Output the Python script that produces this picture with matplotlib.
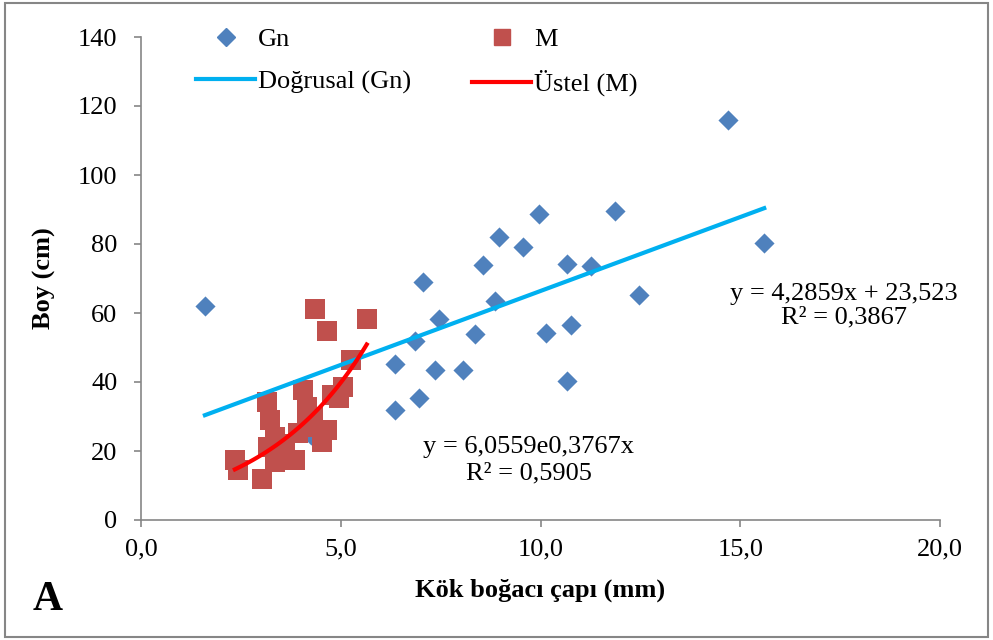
import numpy as np
import matplotlib
matplotlib.use("Agg")
import matplotlib.pyplot as plt
from matplotlib.lines import Line2D
from matplotlib.patches import Rectangle

plt.rcParams["font.family"] = ["Liberation Serif", "DejaVu Serif"]

# Gn: stem diameter (mm) vs height (cm)
gn_x = [1.6, 14.7, 15.6, 7.05, 8.96, 9.55, 9.96, 11.87, 8.55, 10.66, 11.26, 12.46,
        8.86, 7.46, 6.85, 8.35, 10.15, 10.77, 6.36, 7.36, 8.05, 10.66, 6.36, 6.96, 4.25]
gn_y = [62.0, 116.0, 80.2, 68.9, 81.9, 79.0, 88.8, 89.7, 74.0, 74.2, 73.6, 65.3,
        63.4, 58.3, 51.9, 53.9, 54.1, 56.6, 45.3, 43.4, 43.6, 40.4, 32.0, 35.4, 24.5]

# M
m_x = [4.36, 4.65, 5.65, 5.26, 3.15, 4.05, 5.05, 4.77, 4.95, 4.15, 3.23, 4.15, 4.65,
       3.35, 3.94, 3.19, 4.52, 3.85, 3.35, 2.35, 2.44, 3.04, 3.48, 3.6, 4.3]
m_y = [61.1, 54.9, 58.3, 46.4, 34.3, 37.7, 38.6, 36.2, 35.3, 32.8, 29.0, 27.0, 26.1,
       24.1, 25.1, 21.2, 22.7, 17.4, 16.9, 17.4, 14.5, 11.8, 19.3, 22.0, 30.0]

lin_a, lin_b = 4.2859, 23.523
exp_a, exp_b = 6.0559, 0.3767

FS = 19

fig = plt.figure(figsize=(9.93, 6.4), dpi=100)
fig.patches.append(Rectangle((0.005, 0.005), 0.99, 0.99, transform=fig.transFigure,
                             fill=False, edgecolor="#868686", linewidth=1.5))
ax = fig.add_axes([141 / 993, 120 / 640, 799 / 993, 483 / 640])

ax.scatter(gn_x, gn_y, marker="D", s=105, color="#4F81BD", zorder=3, linewidths=0)
ax.scatter(m_x, m_y, marker="s", s=200, color="#C0504D", zorder=3, linewidths=0)

xl = np.linspace(min(gn_x), max(gn_x), 50)
ax.plot(xl, lin_a * xl + lin_b, color="#00B0F0", lw=3, zorder=4)
xe = np.linspace(min(m_x), max(m_x), 80)
ax.plot(xe, exp_a * np.exp(exp_b * xe), color="#FF0000", lw=3, zorder=5)

ax.set_xlim(0, 20)
ax.set_ylim(0, 140)
ax.set_xticks(np.arange(0, 20.1, 5))
ax.set_xticklabels([f"{v:.1f}".replace(".", ",") for v in np.arange(0, 20.1, 5)])
ax.set_yticks(np.arange(0, 141, 20))
for s in ["top", "right"]:
    ax.spines[s].set_visible(False)
for s in ["left", "bottom"]:
    ax.spines[s].set_color("#868686")
    ax.spines[s].set_linewidth(1.2)
ax.tick_params(direction="out", length=5, width=1.2, color="#868686", labelsize=FS)
ax.tick_params(axis="y", pad=12)
ax.tick_params(axis="x", pad=8)
ax.set_xlabel("Kök boğacı çapı (mm)", fontsize=FS, fontweight="bold")
ax.set_ylabel("Boy (cm)", fontsize=FS, fontweight="bold")
ax.xaxis.set_label_coords(0.5, -0.122)
ax.yaxis.set_label_coords(-0.107, 0.5)

ax.text(17.6, 65.5, "y = 4,2859x + 23,523", fontsize=FS, ha="center", va="center")
ax.text(17.6, 58.6, "R² = 0,3867", fontsize=FS, ha="center", va="center")
ax.text(9.7, 21.2, "y = 6,0559e0,3767x", fontsize=FS, ha="center", va="center")
ax.text(9.7, 13.6, "R² = 0,5905", fontsize=FS, ha="center", va="center")

fig.text(33 / 993, 1 - 600 / 640, "A", fontsize=30, fontweight="bold", ha="left", va="center")

handles = [
    Line2D([], [], ls="none", marker="D", ms=9, color="#4F81BD"),
    Line2D([], [], color="#00B0F0", lw=3),
    Line2D([], [], ls="none", marker="s", ms=11, color="#C0504D"),
    Line2D([], [], color="#FF0000", lw=3),
]
labels = ["Gn", "Doğrusal (Gn)", "M", "Üstel (M)"]
fig.legend(handles, labels, ncol=2, loc="upper left", bbox_to_anchor=(196 / 993, 1 - 28 / 640),
           frameon=False, fontsize=FS, handlelength=2.25, handletextpad=0.1,
           columnspacing=2.3, labelspacing=0.7, borderpad=0, borderaxespad=0)

fig.savefig("out.png", dpi=100)
